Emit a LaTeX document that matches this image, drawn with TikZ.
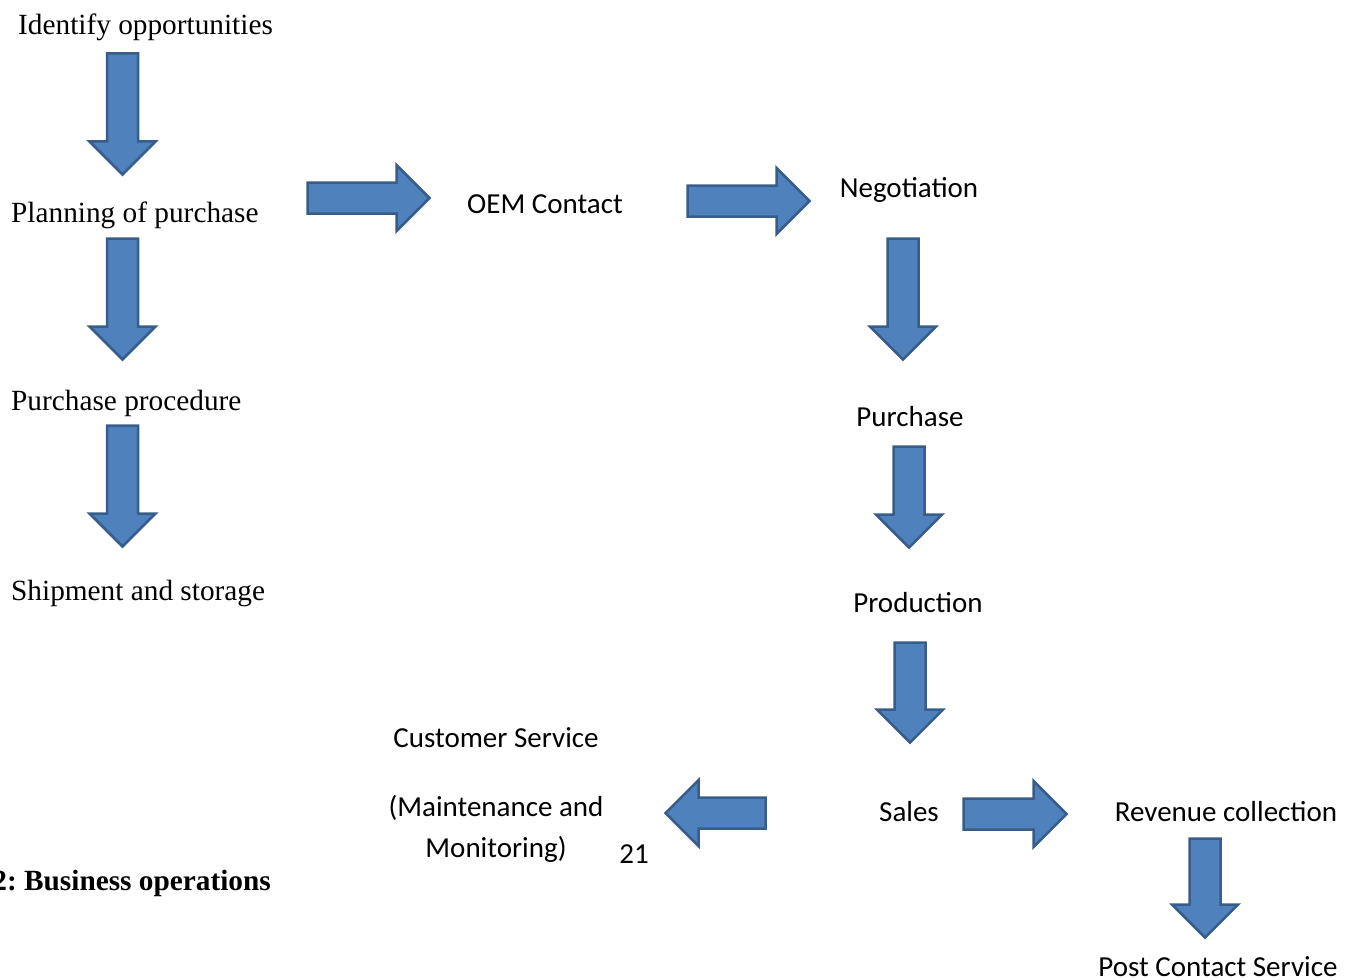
\documentclass[tikz,border=0pt]{standalone}
\usepackage{fontspec}
\setmainfont{Liberation Serif}
\newfontfamily\calibri{Carlito}
\usetikzlibrary{shapes.arrows}
\definecolor{arrowfill}{HTML}{4F81BD}
\definecolor{arrowline}{HTML}{385D8A}

\begin{document}
\begin{tikzpicture}[x=1pt,y=-1pt,
  blockarrow/.style={single arrow, anchor=tail, draw=arrowline, fill=arrowfill, line width=2.5pt,
    inner sep=14.25pt, single arrow head extend=17.5pt, minimum height=#1},
  serif/.style={anchor=west, inner sep=0pt, font=\fontsize{29.3}{36}\selectfont},
  sans/.style={inner sep=0pt, align=center, font=\calibri\fontsize{29}{41}\selectfont}]
  \useasboundingbox (0,0) rectangle (1356,979);

  \node[serif] (opp) at (18,27) {Identify opportunities};
  \node[serif] (plan) at (11,215) {Planning of purchase};
  \node[serif] (proc) at (11,403) {Purchase procedure};
  \node[serif] (ship) at (11,593) {Shipment and storage};
  \node[serif, anchor=east, font=\bfseries\fontsize{29.3}{36}\selectfont] (caption) at (271,883) {2:\ Business operations};

  \node[sans] (oem) at (545,204) {OEM Contact};
  \node[sans] (nego) at (909,190) {Negotiation};
  \node[sans] (purch) at (910,417) {Purchase};
  \node[sans] (prod) at (918,603) {Production};
  \node[sans] (sales) at (909,812) {Sales};
  \node[sans] (cust) at (496,738) {Customer Service};
  \node[sans] (maint) at (496,829) {(Maintenance and\\Monitoring)};
  \node[sans] (pagenum) at (634,854) {21};
  \node[sans] (rev) at (1226,812) {Revenue collection};
  \node[sans] (post) at (1218,967) {Post Contact Service};

  \node[blockarrow=121, rotate=-90] (a1) at (122.5,52.25) {};
  \node[blockarrow=121, rotate=-90] (a2) at (122.5,237.25) {};
  \node[blockarrow=121, rotate=-90] (a3) at (122.5,424.25) {};
  \node[blockarrow=122] (a4) at (306.25,198) {};
  \node[blockarrow=122] (a5) at (686.25,201) {};
  \node[blockarrow=121, rotate=-90] (a6) at (903,237.25) {};
  \node[blockarrow=101, rotate=-90] (a7) at (909,445.25) {};
  \node[blockarrow=100, rotate=-90] (a8) at (910,641.25) {};
  \node[blockarrow=100, rotate=180] (a9) at (766.75,813) {};
  \node[blockarrow=103] (a10) at (962.25,814) {};
  \node[blockarrow=99, rotate=-90] (a11) at (1205,837.25) {};
\end{tikzpicture}
\end{document}
